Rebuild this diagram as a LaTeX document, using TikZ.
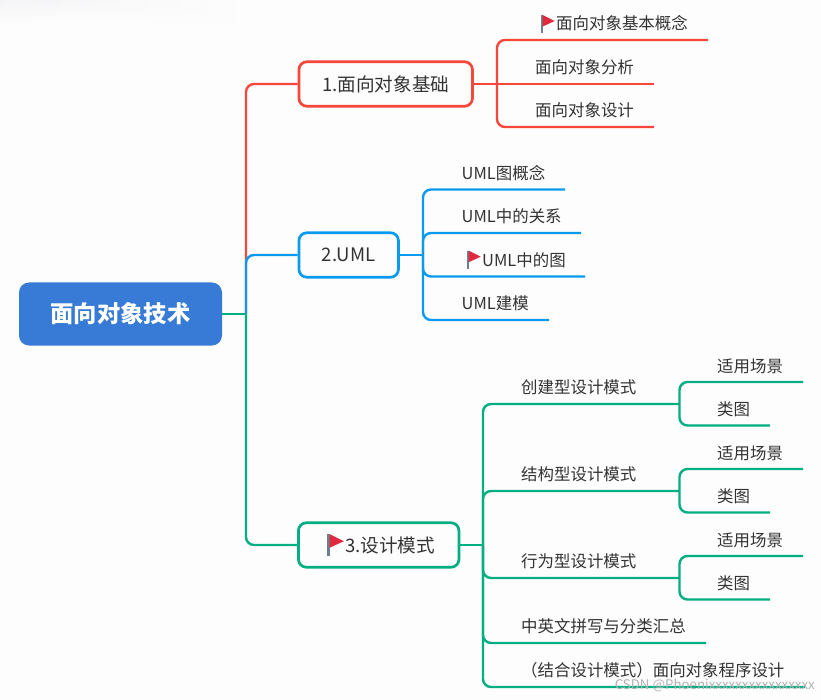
\documentclass[tikz,border=0pt]{standalone}
\usepackage{fontspec}
\setmainfont{Noto Sans CJK SC}
\usetikzlibrary{positioning, fadings}
\definecolor{pagebg}{HTML}{FDFDFD}
\definecolor{rootblue}{HTML}{377BD6}
\definecolor{redline}{HTML}{F7473A}
\definecolor{blueline}{HTML}{0A9BF0}
\definecolor{greenline}{HTML}{02AE82}
\definecolor{flagred}{HTML}{E0293F}
\definecolor{flagpole}{HTML}{6E7F8D}
\definecolor{textgrey}{HTML}{333333}
\definecolor{smear}{HTML}{F1F1F4}

\begin{document}
\begin{tikzpicture}[
x=1pt, y=-1pt,
root/.style={rectangle, rounded corners=10pt, minimum width=203pt, minimum height=63pt,
fill=rootblue, text=white, font=\fontsize{23.3}{28}\selectfont\bfseries},
topic/.style={rectangle, rounded corners=8pt, minimum height=44.5pt, inner sep=0pt,
line width=2.7pt, text=textgrey, font=\fontsize{18.6}{22}\selectfont},
leaf/.style={anchor=west, inner sep=0pt, text=textgrey, font=\fontsize{16.45}{20}\selectfont},
line/.style={draw, line width=2.4pt, rounded corners=8pt},
flagicon/.pic={
    \fill[flagpole] (-1,-1) rectangle (1,17.5);
    \fill[flagred] (1,-1) -- (13,5) -- (1,10.5) -- cycle;
}
]
\useasboundingbox (0,0) rectangle (821,700);
\fill[pagebg] (0,0) rectangle (821,700);
\begin{scope}
\clip (0,0) rectangle (821,700);
\shade[left color=smear, right color=pagebg, path fading=south] (-100,0) rectangle (250,22);
\end{scope}

\node[root] (root) at (120.5,314) {面向对象技术};
\node[topic, draw=redline, minimum width=173.5pt] (basics) at (385.7,84) {1.面向对象基础};
\node[topic, draw=blueline, minimum width=99.5pt] (uml) at (348.7,255) {2.UML};
\node[topic, draw=greenline, minimum width=160.5pt] (patterns) at (378.7,545) {\hspace{22.6pt}3.设计模式};
\pic[scale=1.2] at (328.3,535.2) {flagicon};

\coordinate (rootfork) at (246,314);
\coordinate (basicsfork) at (497,84);
\coordinate (umlfork) at (423,255);
\coordinate (patternsfork) at (483,545);

% red branch
\coordinate (conceptend) at (708,40);
\coordinate (analysisend) at (654,84);
\coordinate (designend) at (654,127);
\node[leaf] (concept) at (556,23.5) {面向对象基本概念};
\node[leaf] (analysis) at (535,67) {面向对象分析};
\node[leaf] (design) at (535,110.5) {面向对象设计};
\pic at (541.7,16) {flagicon};

\path [line, draw=redline] (rootfork) |- (basics.west);
\path [line, draw=redline] (basics.east) -- (basicsfork);
\path [line, draw=redline] (basicsfork) |- (conceptend);
\path [line, draw=redline] (basicsfork) -- (analysisend);
\path [line, draw=redline] (basicsfork) |- (designend);

% blue branch
\coordinate (umlconceptend) at (565,189.5);
\coordinate (relationend) at (581,233);
\coordinate (diagramend) at (585,276.5);
\coordinate (modelend) at (549,320);
\node[leaf] (umlconcept) at (461.5,173) {UML图概念};
\node[leaf] (relation) at (461.5,216.5) {UML中的关系};
\node[leaf] (diagram) at (482,260) {UML中的图};
\node[leaf] (model) at (461.5,303.5) {UML建模};
\pic at (467.7,251.7) {flagicon};

\path [line, draw=blueline] (rootfork) |- (uml.west);
\path [line, draw=blueline] (uml.east) -- (umlfork);
\path [line, draw=blueline] (umlfork) |- (umlconceptend);
\path [line, draw=blueline] (umlfork) |- (relationend);
\path [line, draw=blueline] (umlfork) |- (diagramend);
\path [line, draw=blueline] (umlfork) |- (modelend);

% green branch
\coordinate (createfork) at (679.5,404);
\coordinate (structfork) at (679.5,491);
\coordinate (behavefork) at (679.5,578);
\coordinate (spellend) at (706,643);
\coordinate (codingend) at (805,687);
\coordinate (createupend) at (803,382);
\coordinate (createdownend) at (770,425.5);
\coordinate (structupend) at (803,469);
\coordinate (structdownend) at (770,512.5);
\coordinate (behaveupend) at (803,556);
\coordinate (behavedownend) at (770,599.5);
\node[leaf] (create) at (521,387) {创建型设计模式};
\node[leaf] (struct) at (521,474) {结构型设计模式};
\node[leaf] (behave) at (521,561) {行为型设计模式};
\node[leaf] (spell) at (521,626) {中英文拼写与分类汇总};
\node[leaf] (coding) at (521,670) {（结合设计模式）面向对象程序设计};
\node[leaf] (createup) at (717,366) {适用场景};
\node[leaf] (createdown) at (717,409) {类图};
\node[leaf] (structup) at (717,453) {适用场景};
\node[leaf] (structdown) at (717,496) {类图};
\node[leaf] (behaveup) at (717,540) {适用场景};
\node[leaf] (behavedown) at (717,583) {类图};

\path [line, draw=greenline] (root.east) -- (rootfork);
\path [line, draw=greenline] (rootfork) |- (patterns.west);
\path [line, draw=greenline] (patterns.east) -- (patternsfork);
\path [line, draw=greenline] (patternsfork) |- (createfork);
\path [line, draw=greenline] (patternsfork) |- (structfork);
\path [line, draw=greenline] (patternsfork) |- (behavefork);
\path [line, draw=greenline] (patternsfork) |- (spellend);
\path [line, draw=greenline] (patternsfork) |- (codingend);
\path [line, draw=greenline] (createfork) |- (createupend);
\path [line, draw=greenline] (createfork) |- (createdownend);
\path [line, draw=greenline] (structfork) |- (structupend);
\path [line, draw=greenline] (structfork) |- (structdownend);
\path [line, draw=greenline] (behavefork) |- (behaveupend);
\path [line, draw=greenline] (behavefork) |- (behavedownend);

\node[anchor=east, inner sep=0pt, text=black!30, font=\fontsize{13.3}{16}\selectfont] (mark) at (815,685.5) {CSDN @Phoenixxxxxxxxxxxxxxxx};
\end{tikzpicture}
\end{document}
